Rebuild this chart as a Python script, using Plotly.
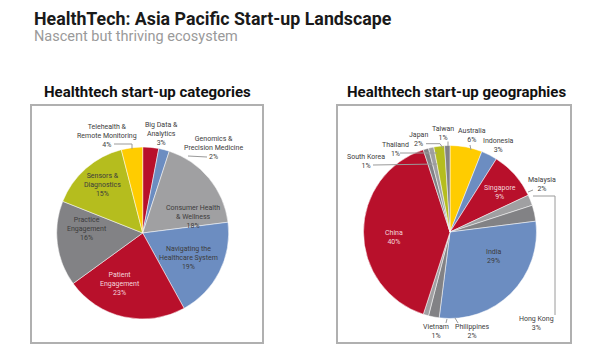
import plotly.graph_objects as go

W, H = 600, 364

# ---------------- data ----------------
cat_names = ["Big Data &<br>Analytics", "Genomics &<br>Precision Medicine",
             "Consumer Health<br>& Wellness", "Navigating the<br>Healthcare System",
             "Patient<br>Engagement", "Practice<br>Engagement",
             "Sensors &<br>Diagnostics", "Telehealth &<br>Remote Monitoring"]
cat_values = [3, 2, 18, 19, 23, 16, 15, 4]

geo_names = ["Australia", "Indonesia", "Singapore", "Malaysia", "Hong Kong", "India",
             "Philippines", "Vietnam", "China", "South Korea", "Thailand", "Japan", "Taiwan"]
geo_values = [6, 3, 9, 2, 3, 29, 2, 1, 40, 1, 1, 2, 1]

title = "HealthTech: Asia Pacific Start-up Landscape"
subtitle = "Nascent but thriving ecosystem"
left_title = "Healthtech start-up categories"
right_title = "Healthtech start-up geographies"

# ---------------- styles ----------------
RED, BLUE, LGREY, DGREY = "#B8102B", "#6C8DC1", "#A0A0A2", "#828285"
OLIVE, YELLOW = "#B5BD1E", "#FFCC00"
cat_colors = [RED, BLUE, LGREY, BLUE, RED, DGREY, OLIVE, YELLOW]
geo_colors = [YELLOW, BLUE, RED, LGREY, DGREY, BLUE, DGREY, LGREY, RED, DGREY, LGREY, OLIVE, DGREY]

FONT = "Roboto"
LBL = "#3c3c3c"
WHITE_T = "#F3D6DB"


def px(x):
    return x / W


def py(y):
    return 1 - y / H


def dom(cx, cy, r):
    return dict(x=[px(cx - r), px(cx + r)], y=[py(cy + r), py(cy - r)])


fig = go.Figure()
fig.add_trace(go.Pie(labels=cat_names, values=cat_values, sort=False, direction="clockwise",
                     rotation=0, marker=dict(colors=cat_colors, line=dict(color="white", width=0.5)),
                     textinfo="none", hoverinfo="label+value", domain=dom(142.7, 233, 86),
                     showlegend=False))
fig.add_trace(go.Pie(labels=geo_names, values=geo_values, sort=False, direction="clockwise",
                     rotation=0, marker=dict(colors=geo_colors, line=dict(color="white", width=0.5)),
                     textinfo="none", hoverinfo="label+value", domain=dom(450, 232, 86.5),
                     showlegend=False))

# label placements (pixel centres) and colours
cat_pos = {
    0: (161.7, 133.5, LBL), 1: (213, 147.5, LBL), 2: (192.7, 216.7, LBL),
    3: (188, 258, LBL), 4: (120, 284, WHITE_T), 5: (87.3, 229, LBL),
    6: (102.7, 184.5, LBL), 7: (106.7, 135.5, LBL),
}
geo_pos = {
    0: (471.7, 135.5, LBL), 1: (498.3, 145.5, LBL), 2: (500, 192, WHITE_T),
    3: (541.7, 184.5, LBL), 4: (536.7, 323.3, LBL), 5: (493.3, 256.5, LBL),
    6: (472.7, 331.3, LBL), 7: (436, 331.3, LBL), 8: (394, 237, WHITE_T),
    9: (365.5, 161.7, LBL), 10: (395, 149.5, LBL), 11: (418.3, 139.5, LBL),
    12: (442.7, 133.8, LBL),
}

annotations = []


def ann(x, y, text, size, color, xanchor="center"):
    annotations.append(dict(x=px(x), y=py(y), xref="paper", yref="paper", showarrow=False,
                            xanchor=xanchor, yanchor="middle", align="center", text=text,
                            font=dict(family=FONT, size=size, color=color)))


for i, (x, y, c) in cat_pos.items():
    ann(x, y, f"{cat_names[i]}<br>{cat_values[i]}%", 7, c)
for i, (x, y, c) in geo_pos.items():
    ann(x, y, f"{geo_names[i]}<br>{geo_values[i]}%", 7, c)

ann(32, 18, f"<b>{title}</b>", 17.8, "#1a1a1a", "left")
ann(32, 37, subtitle, 14.5, "#9a9a9a", "left")
ann(147.5, 92, f"<b>{left_title}</b>", 15, "#111")
ann(456, 92, f"<b>{right_title}</b>", 15, "#111")

# leader lines
leaders = [
    [(114, 144), (132, 144), (132, 149)],
    [(207, 157), (188, 156)],
    [(448, 141.5), (448, 146)],
    [(470, 145), (471, 150)],
    [(426, 143.7), (440, 143.7), (443, 148)],
    [(400, 153), (437, 153)],
    [(373, 165), (437, 164)],
    [(533, 190), (528, 192)],
    [(533, 196), (555, 196), (555, 315)],
    [(447, 319), (446, 323)],
    [(455, 318), (458, 323)],
]
shapes = []
for pts in leaders:
    for (x0, y0), (x1, y1) in zip(pts[:-1], pts[1:]):
        shapes.append(dict(type="line", xref="paper", yref="paper", x0=px(x0), y0=py(y0),
                           x1=px(x1), y1=py(y1), line=dict(color="#9a9a9a", width=1)))
for (x0, y0, x1, y1) in [(31, 105, 263, 343), (337, 105, 571, 343)]:
    shapes.append(dict(type="rect", xref="paper", yref="paper", x0=px(x0), y0=py(y0),
                       x1=px(x1), y1=py(y1), line=dict(color="#B0B0B0", width=2)))

fig.update_layout(width=W, height=H, margin=dict(l=0, r=0, t=0, b=0),
                  paper_bgcolor="white", plot_bgcolor="white",
                  annotations=annotations, shapes=shapes)
fig.write_html("out.html", config={"displayModeBar": False},
               post_script="document.body.style.margin='0';")
